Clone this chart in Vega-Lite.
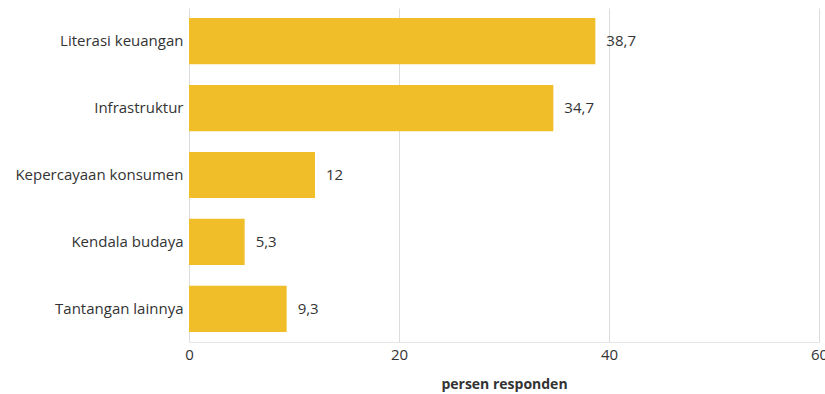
{
  "$schema": "https://vega.github.io/schema/vega-lite/v6.json",
  "width": 630,
  "height": 334,
  "autosize": {"type": "none"},
  "padding": {"left": 189, "top": 8, "right": 6, "bottom": 52},
  "config": {
    "font": "Open Sans",
    "view": {"stroke": null},
    "axis": {"labelFont": "Open Sans", "titleFont": "Open Sans"}
  },
  "data": {
    "values": [
      {"kategori": "Literasi keuangan", "nilai": 38.7, "label": "38,7"},
      {"kategori": "Infrastruktur", "nilai": 34.7, "label": "34,7"},
      {"kategori": "Kepercayaan konsumen", "nilai": 12, "label": "12"},
      {"kategori": "Kendala budaya", "nilai": 5.3, "label": "5,3"},
      {"kategori": "Tantangan lainnya", "nilai": 9.3, "label": "9,3"}
    ]
  },
  "encoding": {
    "y": {
      "field": "kategori",
      "type": "nominal",
      "sort": null,
      "title": null,
      "scale": {"paddingInner": 0.31, "paddingOuter": 0.15},
      "axis": {"ticks": false, "domain": false, "labelFontSize": 15, "labelColor": "#333333", "labelPadding": 6}
    },
    "x": {
      "field": "nilai",
      "type": "quantitative",
      "scale": {"domain": [0, 60], "nice": false},
      "title": "persen responden",
      "axis": {
        "values": [0, 20, 40, 60],
        "ticks": false,
        "domain": true,
        "domainColor": "#e6e6e6",
        "gridColor": "#dcdcdc",
        "labelFontSize": 15,
        "labelColor": "#333333",
        "labelPadding": 5,
        "labelFlush": false,
        "titleFontSize": 14,
        "titleFontWeight": "bold",
        "titleColor": "#333333",
        "titlePadding": 15
      }
    }
  },
  "layer": [
    {"mark": {"type": "bar", "color": "#F0BE28"}},
    {
      "mark": {"type": "text", "align": "left", "dx": 11, "fontSize": 15, "color": "#333333"},
      "encoding": {"text": {"field": "label"}}
    }
  ]
}
